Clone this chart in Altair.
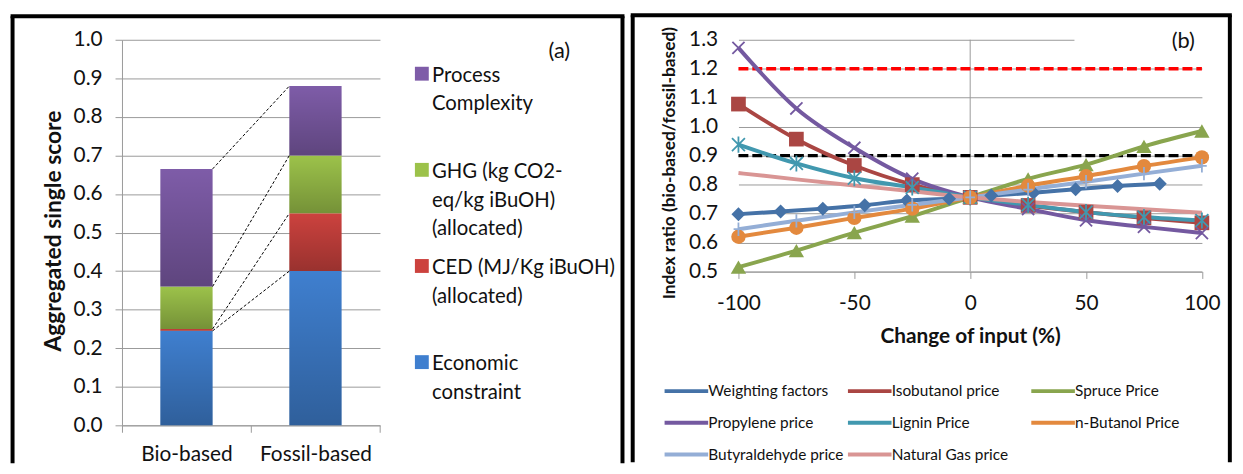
import altair as alt
import pandas as pd

FONT = "Lato"
GRID = "#9a9a9a"
TXT = "#111111"

# ---------------- Panel (a) data ----------------
categories_a = ["Bio-based", "Fossil-based"]
components = [
    "Economic|constraint",
    "CED (MJ/Kg iBuOH)|(allocated)",
    "GHG (kg CO2-|eq/kg iBuOH)|(allocated)",
    "Process|Complexity",
]
component_colors = ["#3F7FCF", "#CC423E", "#9CC24A", "#7E5CA8"]
bio_based = [0.245, 0.005, 0.110, 0.305]
fossil_based = [0.400, 0.150, 0.150, 0.180]
yticks_a = [0.0, 0.1, 0.2, 0.3, 0.4, 0.5, 0.6, 0.7, 0.8, 0.9, 1.0]

# ---------------- Panel (b) data ----------------
series_names = [
    "Weighting factors", "Isobutanol price", "Spruce Price",
    "Propylene price", "Lignin Price", "n-Butanol Price",
    "Butyraldehyde price", "Natural Gas price",
]
series_colors = ["#4572A7", "#AA4643", "#89A54E", "#7459A0",
                 "#4198AF", "#E3893E", "#94AED6", "#D99594"]
x_steps = [-100, -75, -50, -25, 0, 25, 50, 75, 100]
x_weighting = [-100, -81.8, -63.6, -45.5, -27.3, -9.1, 9.1, 27.3, 45.5, 63.6, 81.8]
weighting_factors = [0.698, 0.707, 0.717, 0.729, 0.745, 0.751, 0.762, 0.772, 0.784, 0.795, 0.803]
isobutanol_price = [1.078, 0.957, 0.866, 0.800, 0.756, 0.728, 0.705, 0.685, 0.668]
spruce_price = [0.515, 0.572, 0.634, 0.691, 0.756, 0.820, 0.869, 0.932, 0.985]
propylene_price = [1.272, 1.063, 0.927, 0.820, 0.756, 0.716, 0.677, 0.654, 0.633]
lignin_price = [0.938, 0.873, 0.822, 0.790, 0.756, 0.730, 0.705, 0.688, 0.676]
n_butanol_price = [0.620, 0.651, 0.685, 0.717, 0.756, 0.796, 0.829, 0.864, 0.894]
butyraldehyde_price = [0.646, 0.675, 0.704, 0.730, 0.756, 0.783, 0.810, 0.838, 0.865]
natural_gas_price = [0.840, 0.818, 0.797, 0.777, 0.756, 0.740, 0.727, 0.715, 0.703]
thresholds = [1.2, 0.9]
threshold_colors = ["#FF0000", "#000000"]
x_ends = [-100, 100]
xticks_b = [-100, -50, 0, 50, 100]
yticks_b = [0.5, 0.6, 0.7, 0.8, 0.9, 1.0, 1.1, 1.2, 1.3]
y_range_b = [0.5, 1.3]

X_PATH = "M-1,-1L1,1M-1,1L1,-1"
STAR_PATH = "M-1,-1L1,1M-1,1L1,-1M0,-1.25L0,1.25"
PLUS_PATH = "M-0.8,0L0.8,0M0,-1.1L0,1.1"
LEGEND_LINE = "M-1,0H5"
# marker style per series: (shape, size, filled); Natural Gas has no markers
marker_styles = {
    "Weighting factors": ("diamond", 200, True),
    "Isobutanol price": ("square", 220, True),
    "Spruce Price": ("triangle-up", 240, True),
    "Propylene price": (X_PATH, 150, False),
    "Lignin Price": (STAR_PATH, 170, False),
    "n-Butanol Price": ("circle", 210, True),
    "Butyraldehyde price": (PLUS_PATH, 150, False),
}

# ---------------- build tables ----------------
rows_a = []
for cat, vals in zip(categories_a, [bio_based, fossil_based]):
    base = 0.0
    for comp, v in zip(components, vals):
        rows_a.append({"cat": cat, "comp": comp, "y0": base, "y1": base + v})
        base += v
df_a = pd.DataFrame(rows_a)

link_rows = []
bt, ft = 0.0, 0.0
for bv, fv in zip(bio_based, fossil_based):
    bt += bv
    ft += fv
    link_rows.append({"from": "Bio-based", "to": "Fossil-based", "ya": bt, "yb": ft})
df_links = pd.DataFrame(link_rows)

series_values = [weighting_factors, isobutanol_price, spruce_price, propylene_price,
                 lignin_price, n_butanol_price, butyraldehyde_price, natural_gas_price]
rows_b = []
for name, vals in zip(series_names, series_values):
    xs = x_weighting if name == "Weighting factors" else x_steps
    for xv, yv in zip(xs, vals):
        rows_b.append({"series": name, "x": xv, "y": yv})
df_b = pd.DataFrame(rows_b)

one = pd.DataFrame({"k": [0]})


def frame(xl, xr, yt, yb):
    base = alt.Chart(one).mark_rule(color="black", strokeWidth=4)
    return [
        base.encode(x=alt.value(xl - 2), x2=alt.value(xr + 2), y=alt.value(yt)),
        base.encode(x=alt.value(xl), y=alt.value(yt), y2=alt.value(yb)),
        base.encode(x=alt.value(xr), y=alt.value(yt), y2=alt.value(yb)),
    ]


# ---------------- Panel (a) ----------------
W_A, H_A = 260.3, 389.0
x_scale_a = alt.Scale(domain=categories_a, paddingInner=0, paddingOuter=0)
y_scale_a = alt.Scale(domain=[0, 1], nice=False)
x_axis_a = alt.Axis(title=None, labelAngle=0, labelFont=FONT, labelFontSize=21,
                    labelColor=TXT, labelPadding=12, tickBand="extent", tickSize=7,
                    tickColor=GRID, domainColor=GRID, grid=False, labelOverlap=False)
y_axis_a = alt.Axis(values=yticks_a, format=".1f", labelFont=FONT, labelFontSize=21,
                    labelColor=TXT, labelPadding=13, tickSize=7, tickColor=GRID,
                    domainColor=GRID, grid=True, gridColor=GRID, labelOverlap=False,
                    labelFlush=False,
                    title="Aggregated single score", titleFont=FONT, titleFontSize=23,
                    titleFontWeight="bold", titleColor=TXT, titleX=-69, titleY=H_A / 2 - 2,
                    titleAngle=270, titleAlign="center", titleBaseline="middle")
legend_a = alt.Legend(title=None, orient="none", legendX=292.3, legendY=16,
                      labelExpr="split(datum.label, '|')", labelFont=FONT,
                      labelFontSize=20.5, labelColor=TXT, labelBaseline="top",
                      labelOffset=0, labelLimit=400,
                      symbolType="M-1,0.14H1V2.14H-1Z", symbolSize=196,
                      symbolStrokeWidth=0, symbolOpacity=1, rowPadding=8,
                      gridAlign="all", columns=1, padding=0)

bars = alt.Chart(df_a).mark_bar(width=alt.RelativeBandSize(0.405)).encode(
    x=alt.X("cat:N", scale=x_scale_a, axis=x_axis_a),
    y=alt.Y("y0:Q", scale=y_scale_a, axis=y_axis_a),
    y2="y1:Q",
    color=alt.Color("comp:N", scale=alt.Scale(domain=components[::-1], range=component_colors[::-1]),
                    legend=legend_a),
)
shade = {"gradient": "linear", "x1": 0, "y1": 0, "x2": 0, "y2": 1,
         "stops": [{"offset": 0, "color": "rgba(0,0,0,0)"},
                   {"offset": 1, "color": "rgba(0,0,0,0.25)"}]}
overlay = alt.Chart(df_a).mark_bar(width=alt.RelativeBandSize(0.405), fill=shade).encode(
    x=alt.X("cat:N", scale=x_scale_a, axis=x_axis_a),
    y=alt.Y("y0:Q", scale=y_scale_a, axis=y_axis_a),
    y2="y1:Q",
)
links = alt.Chart(df_links).mark_rule(color="black", strokeWidth=1, strokeDash=[3, 2]).encode(
    x=alt.X("from:N", bandPosition=0.7025, scale=x_scale_a, axis=x_axis_a),
    x2=alt.X2("to:N", bandPosition=0.2975),
    y=alt.Y("ya:Q", scale=y_scale_a, axis=y_axis_a),
    y2="yb:Q",
)
label_a = alt.Chart(one).mark_text(text="(a)", font=FONT, fontSize=22, color=TXT,
                                   align="center", baseline="middle").encode(
    x=alt.value(441.3), y=alt.value(11.3))

panel_a = alt.layer(bars, overlay, links, label_a, *frame(-110.4, 505.0, -23.7, 427.3)).properties(
    width=W_A, height=H_A)

# ---------------- Panel (b) ----------------
W_B, H_B = 467.6, 233.8
x_scale_b = alt.Scale(domain=[-100, 100], nice=False, zero=False)
y_scale_b = alt.Scale(domain=y_range_b, nice=False, zero=False)
x_axis_b = alt.Axis(values=xticks_b, labelFont=FONT, labelFontSize=21, labelColor=TXT,
                    labelExpr="datum.value < 0 ? '-' + abs(datum.value) : '' + datum.value",
                    labelPadding=14, tickSize=7, tickColor=GRID, domainColor=GRID, grid=False,
                    labelOverlap=False, labelFlush=False,
                    title="Change of input (%)", titleFont=FONT, titleFontSize=21,
                    titleFontWeight="bold", titleColor=TXT, titleY=66, titleBaseline="middle")
y_axis_b = alt.Axis(values=yticks_b, format=".1f", labelFont=FONT, labelFontSize=21,
                    labelColor=TXT, labelPadding=21, ticks=False, tickSize=0, domain=False,
                    grid=True, gridColor=GRID, labelOverlap=False, labelFlush=False,
                    title="Index ratio (bio-based/fossil-based)", titleFont=FONT,
                    titleFontSize=17.5, titleFontWeight="bold", titleColor=TXT,
                    titleX=-69.2, titleY=124, titleAngle=270, titleAlign="center",
                    titleBaseline="middle")
color_scale_b = alt.Scale(domain=series_names, range=series_colors)
legend_b = alt.Legend(title=None, orient="none", legendX=-76.7, legendY=345, columns=3,
                      direction="horizontal", gridAlign="all", columnPadding=-4,
                      rowPadding=14, symbolType=LEGEND_LINE,
                      symbolSize=215, symbolStrokeWidth=4, labelFont=FONT, labelFontSize=15.5,
                      labelColor=TXT, labelOffset=27.3, labelLimit=300, padding=0)

xb = alt.X("x:Q", scale=x_scale_b, axis=x_axis_b)
yb = alt.Y("y:Q", scale=y_scale_b, axis=y_axis_b)

zero_df = pd.DataFrame({"x": [0], "y": [y_range_b[0]], "y2": [y_range_b[1]]})
zero_rule = alt.Chart(zero_df).mark_rule(color=GRID, strokeWidth=1).encode(
    x=xb, y=yb, y2="y2:Q")

thr_layers = []
for lvl, col in zip(thresholds, threshold_colors):
    dft = pd.DataFrame({"x": x_ends, "y": [lvl, lvl]})
    thr_layers.append(alt.Chart(dft).mark_line(color=col, strokeWidth=3.5, strokeDash=[10, 4]).encode(
        x=xb, y=yb))

lines = alt.Chart(df_b).mark_line(interpolate="monotone", strokeWidth=4).encode(
    x=xb, y=yb,
    color=alt.Color("series:N", scale=color_scale_b, legend=legend_b),
)

point_layers = []
for name, col in zip(series_names, series_colors):
    if name not in marker_styles:
        continue
    shp, sz, filled = marker_styles[name]
    sub = df_b[df_b["series"] == name]
    if filled:
        mk = alt.Chart(sub).mark_point(shape=shp, size=sz, filled=True, fill=col,
                                       opacity=1, strokeWidth=0)
    else:
        mk = alt.Chart(sub).mark_point(shape=shp, size=sz, filled=False, stroke=col,
                                       opacity=1, strokeWidth=1.8)
    point_layers.append(mk.encode(x=xb, y=yb))

bg_df = pd.DataFrame({"x": [45], "x2": [101], "y": [1.285], "y2": [1.31]})
label_bg = alt.Chart(bg_df).mark_rect(color="white").encode(
    x=xb, x2="x2:Q", y=yb, y2="y2:Q")
label_b = alt.Chart(one).mark_text(text="(b)", font=FONT, fontSize=22, color=TXT,
                                   align="center", baseline="middle").encode(
    x=alt.value(448.8), y=alt.value(1.8))

panel_b = alt.layer(zero_rule, *thr_layers, lines, *point_layers, label_bg, label_b,
                    *frame(-106.7, 495.8, -24.7, 426.3)).properties(width=W_B, height=H_B)

chart = alt.hconcat(panel_a, panel_b, spacing=0).resolve_scale(
    color="independent"
).resolve_legend(
    color="independent"
).properties(
    padding={"left": 0, "top": 2, "right": 0, "bottom": 0}
).configure(
    font=FONT,
    view=alt.ViewConfig(stroke="transparent"),
    style={"guide-label": {"lineHeight": 29}},
)

chart.save("out.html", embed_options={"renderer": "svg", "actions": False})
